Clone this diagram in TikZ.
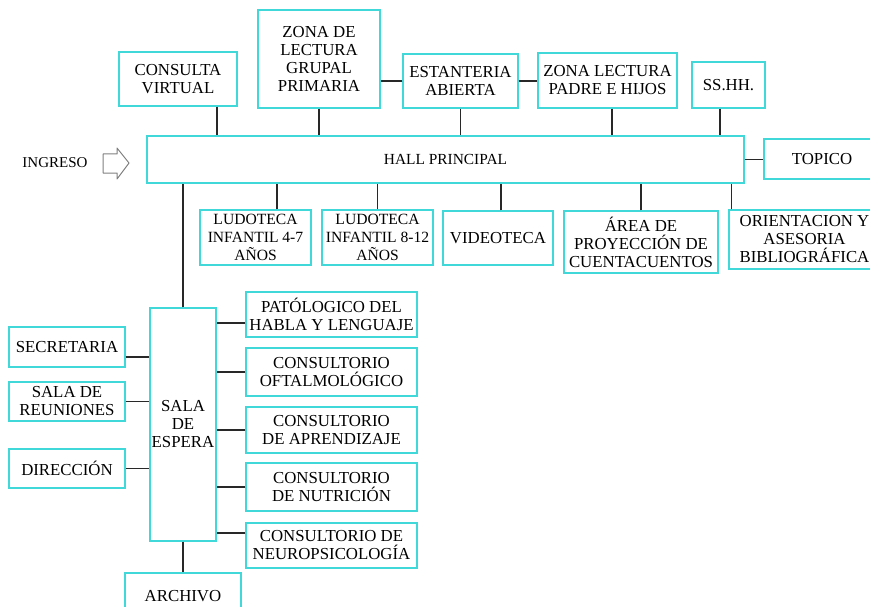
\documentclass[tikz,border=0pt]{standalone}
\usepackage{fontspec}
\setmainfont{Liberation Serif}
\usetikzlibrary{positioning}
\definecolor{roomcyan}{RGB}{64,216,216}
\definecolor{linkgray}{RGB}{40,40,40}

\begin{document}
\begin{tikzpicture}[x=1pt, y=-1pt,
  room/.style={draw=roomcyan, line width=1.3pt, align=center, inner sep=1pt,
    font=\fontsize{16.8}{18}\selectfont},
  link/.style={draw=linkgray, line width=1.2pt}]
  \useasboundingbox (0,0) rectangle (870,607);

  % Top row
  \node[room, minimum width=118pt, minimum height=54pt] (consulta) at (178,79) {CONSULTA\\VIRTUAL};
  \node[room, minimum width=122pt, minimum height=98pt] (grupal) at (319,59) {ZONA DE\\LECTURA\\GRUPAL\\PRIMARIA};
  \node[room, minimum width=115pt, minimum height=54pt] (estanteria) at (460.5,81) {ESTANTERIA\\ABIERTA};
  \node[room, minimum width=139pt, minimum height=55pt] (padre) at (607.5,80.5) {ZONA LECTURA\\PADRE E HIJOS};
  \node[room, minimum width=73pt, minimum height=46pt] (sshh) at (728.5,85) {SS.HH.};

  % Hall and entrance
  \node[room, minimum width=597pt, minimum height=47pt, font=\fontsize{15.4}{17}\selectfont] (hall) at (445.5,159.5) {HALL PRINCIPAL};
  \node[room, minimum width=116pt, minimum height=40pt] (topico) at (822,159) {TOPICO};
  \node[font=\fontsize{15}{17}\selectfont, inner sep=0pt] (ingreso) at (55,163) {INGRESO};
  \draw[draw=gray, line width=1pt, line join=round]
    (103,154) -- (117,154) -- (117,148) -- (129,163) -- (117,179) -- (117,173) -- (103,173) -- cycle;

  % Row below the hall
  \node[room, minimum width=111pt, minimum height=55pt, font=\fontsize{15.6}{18}\selectfont] (ludoA) at (255.5,237.5) {LUDOTECA\\INFANTIL 4-7\\AÑOS};
  \node[room, minimum width=111pt, minimum height=55pt, font=\fontsize{15.6}{18}\selectfont] (ludoB) at (377.5,237.5) {LUDOTECA\\INFANTIL 8-12\\AÑOS};
  \node[room, minimum width=110pt, minimum height=54pt] (video) at (498,238) {VIDEOTECA};
  \node[room, minimum width=154pt, minimum height=62pt] (area) at (641,242) {ÁREA DE\\PROYECCIÓN DE\\CUENTACUENTOS};
  \node[room, minimum width=151pt, minimum height=59pt] (orienta) at (804.5,239.5) {ORIENTACION Y\\ASESORIA\\BIBLIOGRÁFICA};

  % Waiting room and offices
  \node[room, minimum width=66pt, minimum height=233pt] (sala) at (183,424.5) {SALA\\DE\\ESPERA};
  \node[room, minimum width=171pt, minimum height=45pt] (pato) at (331.5,314.5) {PATÓLOGICO DEL\\HABLA Y LENGUAJE};
  \node[room, minimum width=171pt, minimum height=48pt] (oftal) at (331.5,372) {CONSULTORIO\\OFTALMOLÓGICO};
  \node[room, minimum width=171pt, minimum height=46pt] (aprende) at (331.5,430) {CONSULTORIO\\DE APRENDIZAJE};
  \node[room, minimum width=171pt, minimum height=48pt] (nutri) at (331.5,487) {CONSULTORIO\\DE NUTRICIÓN};
  \node[room, minimum width=171pt, minimum height=45pt] (neuro) at (331.5,545.5) {CONSULTORIO DE\\NEUROPSICOLOGÍA};
  \node[room, minimum width=116pt, minimum height=40pt] (secre) at (67,347) {SECRETARIA};
  \node[room, minimum width=116pt, minimum height=39pt] (reunion) at (67,401.5) {SALA DE\\REUNIONES};
  \node[room, minimum width=116pt, minimum height=39pt] (direc) at (67,468.5) {DIRECCIÓN};
  \node[room, minimum width=116pt, minimum height=47pt] (archivo) at (183,596.5) {ARCHIVO};

  % Connectors to the hall
  \draw[link] ([xshift=39pt]consulta.south) -- ([xshift=39pt]consulta.south |- hall.north);
  \draw[link] (grupal.south) -- (grupal.south |- hall.north);
  \draw[link] (estanteria.south) -- (estanteria.south |- hall.north);
  \draw[link] ([xshift=4.5pt]padre.south) -- ([xshift=4.5pt]padre.south |- hall.north);
  \draw[link] ([xshift=-8.5pt]sshh.south) -- ([xshift=-8.5pt]sshh.south |- hall.north);
  \draw[link] (estanteria.west) -- (estanteria.west -| grupal.east);
  \draw[link] (estanteria.east) -- (estanteria.east -| padre.west);
  \draw[link] (hall.east) -- (hall.east -| topico.west);
  \draw[link] ([xshift=21.5pt]ludoA.north) -- ([xshift=21.5pt]ludoA.north |- hall.south);
  \draw[link] (ludoB.north) -- (ludoB.north |- hall.south);
  \draw[link] ([xshift=3pt]video.north) -- ([xshift=3pt]video.north |- hall.south);
  \draw[link] (area.north) -- (area.north |- hall.south);
  \draw[link] ([xshift=3pt]orienta.north west) -- ([xshift=3pt]orienta.north west |- hall.south);
  \draw[link] (sala.north) -- (sala.north |- hall.south);

  % Connectors to the waiting room
  \draw[link] ([yshift=-8.5pt]pato.west) -- ([yshift=-8.5pt]pato.west -| sala.east);
  \draw[link] (oftal.west) -- (oftal.west -| sala.east);
  \draw[link] (aprende.west) -- (aprende.west -| sala.east);
  \draw[link] (nutri.west) -- (nutri.west -| sala.east);
  \draw[link] ([yshift=12.5pt]neuro.west) -- ([yshift=12.5pt]neuro.west -| sala.east);
  \draw[link] ([yshift=-10pt]secre.east) -- ([yshift=-10pt]secre.east -| sala.west);
  \draw[link] (reunion.east) -- (reunion.east -| sala.west);
  \draw[link] (direc.east) -- (direc.east -| sala.west);
  \draw[link] (sala.south) -- (archivo.north);
\end{tikzpicture}
\end{document}
